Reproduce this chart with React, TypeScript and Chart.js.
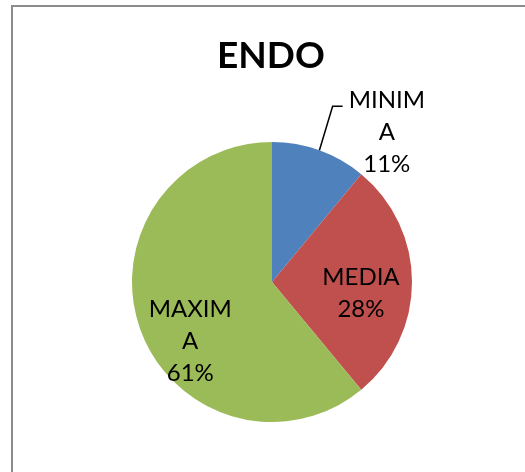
import { useEffect, useRef } from "react";
import { Chart, registerables } from "chart.js";

Chart.register(...registerables);

const titleText = "ENDO";
const categories = ["MINIMA", "MEDIA", "MAXIMA"];
const nameLines = [["MINIM", "A"], ["MEDIA"], ["MAXIM", "A"]];
const values = [11, 28, 61];
const colors = ["#4F81BD", "#C0504D", "#9BBB59"];

// label placement (style): radius fraction and angle shift in degrees
const placement = [
  { r: 1.35, shift: 17.6, leader: true },
  { r: 0.64, shift: 7, leader: false },
  { r: 0.72, shift: -16, leader: false },
];

const FONT = "Lato, 'Open Sans', sans-serif";

const labelPlugin = {
  id: "excelLabels",
  afterDatasetsDraw(chart: any) {
    const ctx = chart.ctx;
    const meta = chart.getDatasetMeta(0);
    const total = values.reduce((a, b) => a + b, 0);
    ctx.save();
    ctx.fillStyle = "#000";
    ctx.font = `24px ${FONT}`;
    ctx.textAlign = "center";
    ctx.textBaseline = "alphabetic";
    const lineH = 32;
    const cap = 17;
    meta.data.forEach((arc: any, i: number) => {
      const { x, y, startAngle, endAngle, outerRadius } = arc.getProps(
        ["x", "y", "startAngle", "endAngle", "outerRadius"],
        true
      );
      const mid = (startAngle + endAngle) / 2;
      const p = placement[i];
      const ang = mid + (p.shift * Math.PI) / 180;
      const px = x + Math.cos(ang) * p.r * outerRadius;
      const py = y + Math.sin(ang) * p.r * outerRadius;
      const lines = [...nameLines[i], `${Math.round((values[i] / total) * 100)}%`];
      const blockH = (lines.length - 1) * lineH + cap;
      const firstBase = py - blockH / 2 + cap;
      lines.forEach((t, k) => {
        ctx.fillText(t, px, firstBase + k * lineH);
      });
      if (p.leader) {
        const w = ctx.measureText(lines[0]).width;
        const left = px - w / 2;
        const ex = x + Math.cos(mid) * outerRadius;
        const ey = y + Math.sin(mid) * outerRadius;
        ctx.beginPath();
        ctx.strokeStyle = "#000";
        ctx.lineWidth = 1.5;
        ctx.moveTo(ex, ey);
        ctx.lineTo(left - 16, firstBase - 2);
        ctx.lineTo(left - 6, firstBase - 2);
        ctx.stroke();
      }
    });
    // title
    ctx.font = `bold 37px ${FONT}`;
    ctx.textAlign = "center";
    ctx.fillText(titleText, 271, 68);
    ctx.restore();
  },
};

export default function App() {
  const ref = useRef<HTMLCanvasElement | null>(null);
  useEffect(() => {
    if (!ref.current) return;
    const chart = new Chart(ref.current, {
      type: "pie",
      data: {
        labels: categories,
        datasets: [
          {
            data: values,
            backgroundColor: colors,
            borderWidth: 0,
            hoverOffset: 0,
          },
        ],
      },
      options: {
        animation: false,
        responsive: true,
        maintainAspectRatio: false,
        events: [],
        layout: { padding: { left: 132, top: 142, right: 113, bottom: 50 } },
        plugins: {
          legend: { display: false },
          tooltip: { enabled: false },
          title: { display: false },
        },
      },
      plugins: [labelPlugin],
    });
    return () => chart.destroy();
  }, []);
  return (
    <div
      style={{
        position: "absolute",
        left: 0,
        top: 0,
        width: 525,
        height: 472,
        overflow: "hidden",
        background: "#fff",
      }}
    >
      <div
        style={{
          position: "absolute",
          left: 11,
          top: 5,
          width: 560,
          height: 520,
          border: "2px solid #8c8c8c",
          boxSizing: "border-box",
        }}
      />
      <div style={{ position: "absolute", left: 0, top: 0, width: 525, height: 472 }}>
        <canvas ref={ref} />
      </div>
    </div>
  );
}
